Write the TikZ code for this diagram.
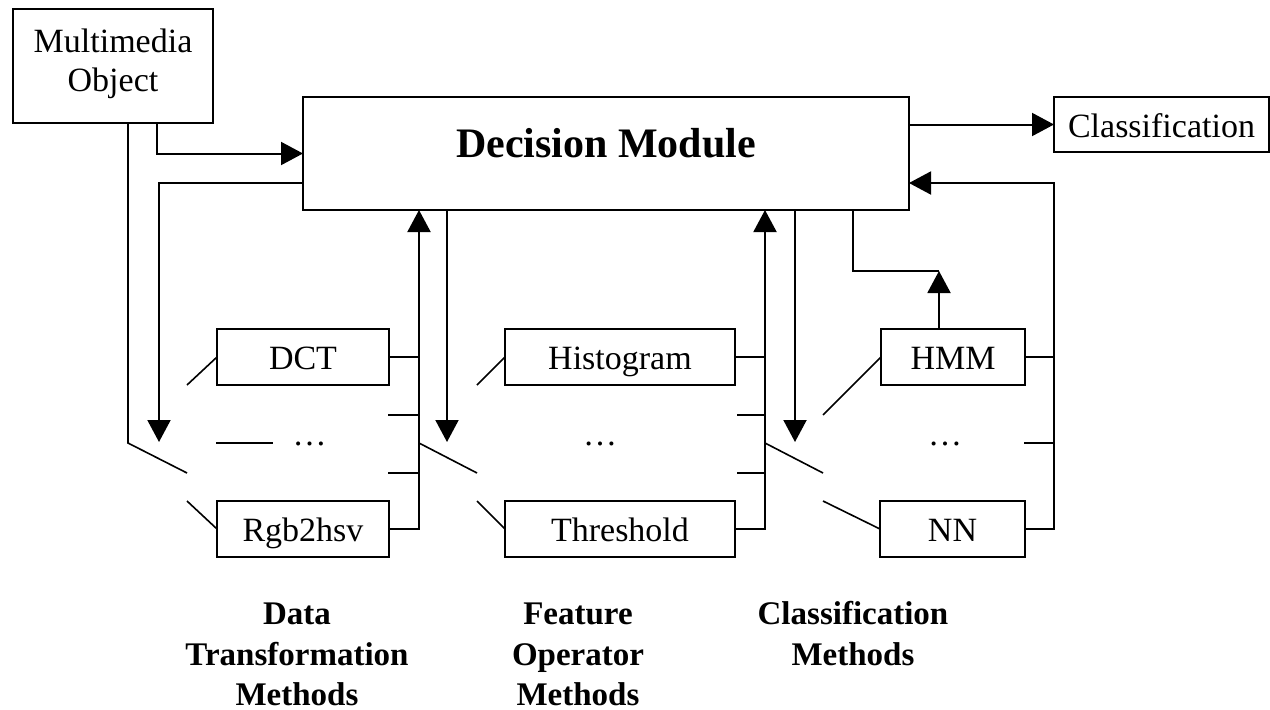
\documentclass[tikz,border=0pt]{standalone}
\usepackage{fontspec}
\setmainfont{Liberation Serif}
\usetikzlibrary{arrows.meta}
\begin{document}
\begin{tikzpicture}[x=1pt,y=-1pt,
  line width=2pt,
  box/.style={draw,line width=2pt,inner sep=0pt,outer sep=0pt,rectangle},
  lab/.style={font=\fontsize{34}{39}\selectfont,anchor=base,inner sep=0pt},
  blab/.style={font=\fontsize{33}{40}\selectfont\bfseries,anchor=base,inner sep=0pt},
  arr/.style={-{Triangle[length=22pt,width=23pt]}},
  wire/.style={line width=1.6pt}]
\useasboundingbox (0,0) rectangle (1270,710);

% boxes
\node[box,minimum width=200pt,minimum height=114pt] (mo) at (113,66) {};
\node[box,minimum width=606pt,minimum height=113pt] (dm) at (606,153.5) {};
\node[box,minimum width=215pt,minimum height=55pt] (cls) at (1161.5,124.5) {};
\node[box,minimum width=172pt,minimum height=56pt] (dct) at (303,357) {};
\node[box,minimum width=172pt,minimum height=56pt] (rgb) at (303,529) {};
\node[box,minimum width=230pt,minimum height=56pt] (his) at (620,357) {};
\node[box,minimum width=230pt,minimum height=56pt] (thr) at (620,529) {};
\node[box,minimum width=144pt,minimum height=56pt] (hmm) at (953,357) {};
\node[box,minimum width=145pt,minimum height=56pt] (nn) at (952.5,529) {};

% texts
\node[lab] (mot1) at (113,52) {Multimedia};
\node[lab] (mot2) at (113,91) {Object};
\node[lab,font=\fontsize{42}{48}\selectfont\bfseries] (dmt) at (606,157) {Decision Module};
\node[lab] (clst) at (1161.5,137) {Classification};
\node[lab] (dctt) at (303,369) {DCT};
\node[lab] (rgbt) at (303,541) {Rgb2hsv};
\node[lab] (hist) at (620,369) {Histogram};
\node[lab] (thrt) at (620,541) {Threshold};
\node[lab] (hmmt) at (953,369) {HMM};
\node[lab] (nnt) at (952.5,541) {NN};
\node[lab] (dots1) at (309.5,445) {\ldots};
\node[lab] (dots2) at (600,445) {\ldots};
\node[lab] (dots3) at (945,445) {\ldots};

\node[blab] (l1a) at (297,624) {Data};
\node[blab] (l1b) at (297,665) {Transformation};
\node[blab] (l1c) at (297,705) {Methods};
\node[blab] (l2a) at (578,624) {Feature};
\node[blab] (l2b) at (578,665) {Operator};
\node[blab] (l2c) at (578,705) {Methods};
\node[blab] (l3a) at (853,624) {Classification};
\node[blab] (l3b) at (853,665) {Methods};

% coordinates
\coordinate (p1) at (128,443);
\coordinate (p2) at (187,473);
\coordinate (q1) at (159,183);
\coordinate (q2) at (159,442);
\coordinate (c1) at (419,529);
\coordinate (t1a) at (388,415);
\coordinate (t1b) at (388,473);
\coordinate (s1a) at (187,385);
\coordinate (s1b) at (187,501);
\coordinate (h1) at (216,443);
\coordinate (q3) at (447,442);
\coordinate (p3) at (477,473);
\coordinate (s2a) at (477,385);
\coordinate (s2b) at (477,501);
\coordinate (c2) at (765,529);
\coordinate (t2a) at (737,415);
\coordinate (t2b) at (737,473);
\coordinate (q4) at (795,442);
\coordinate (p4) at (823,473);
\coordinate (s3a) at (823,415);
\coordinate (s3b) at (823,501);
\coordinate (c3) at (1054,529);
\coordinate (r1) at (1054,183);
\coordinate (t3) at (1024,443);
\coordinate (u1) at (853,271);
\coordinate (u2) at (939,271);

% top connectors
\draw[wire] ([xshift=15pt]mo.south) -- (p1) -- (p2);
\draw[arr] ([xshift=44pt]mo.south) |- (dm.west);
\draw[arr] (dm.west |- q1) -- (q1) -- (q2);
\draw[arr] (dm.east |- cls.west) -- (cls.west);

% column 1
\draw[arr] (rgb.east) -- (c1) -- (c1 |- dm.south);
\draw (dct.east) -- (dct.east -| c1);
\draw (t1a) -- (t1a -| c1);
\draw (t1b) -- (t1b -| c1);
\draw[wire] (s1a) -- (dct.west);
\draw[wire] (s1b) -- (rgb.west);
\draw (h1) -- ++(57,0);

% column 2
\draw[arr] (q3 |- dm.south) -- (q3);
\draw[wire] (c1 |- p1) -- (p3);
\draw[wire] (s2a) -- (his.west);
\draw[wire] (s2b) -- (thr.west);
\draw[arr] (thr.east) -- (c2) -- (c2 |- dm.south);
\draw (his.east) -- (his.east -| c2);
\draw (t2a) -- (t2a -| c2);
\draw (t2b) -- (t2b -| c2);

% column 3
\draw[arr] (q4 |- dm.south) -- (q4);
\draw[wire] (c2 |- p1) -- (p4);
\draw[wire] (s3a) -- (hmm.west);
\draw[wire] (s3b) -- (nn.west);
\draw[arr] (nn.east) -- (c3) -- (r1) -- (r1 -| dm.east);
\draw (hmm.east) -- (hmm.east -| c3);
\draw (t3) -- (t3 -| c3);
\draw (u1 |- dm.south) -- (u1) -- (u2);
\draw[arr] (u2 |- hmm.north) -- (u2);
\end{tikzpicture}
\end{document}
